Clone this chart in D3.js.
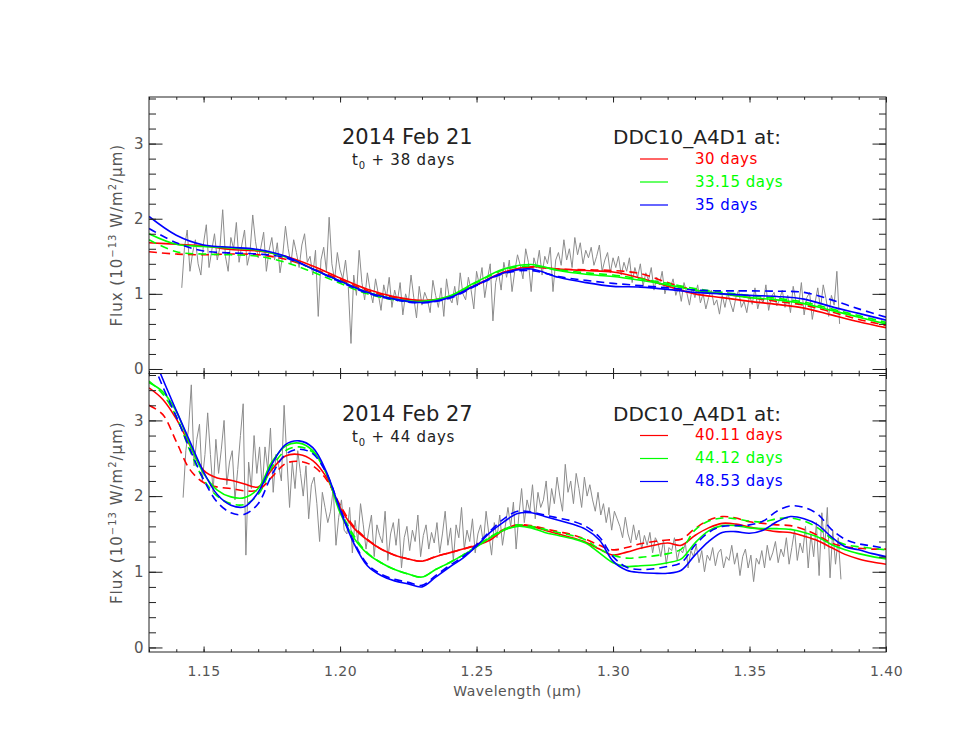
<!DOCTYPE html>
<html>
<head>
<meta charset="utf-8">
<script src="https://cdn.jsdelivr.net/npm/d3@7"></script>
<style>
  body { margin: 0; background: #fff; }
  text { font-family: "DejaVu Sans", sans-serif; }
</style>
</head>
<body>
<svg width="969" height="749"></svg>
<script>
// wavelength grids for the model curves (micron)
const gridTop = [1.13,1.14,1.15,1.16,1.17,1.18,1.19,1.20,1.21,1.22,1.23,1.24,1.25,1.26,1.27,1.28,1.29,1.30,1.31,1.32,1.33,1.34,1.35,1.36,1.37,1.38,1.39,1.40];
const gridBottom = [1.130,1.135,1.140,1.145,1.150,1.155,1.160,1.165,1.170,1.175,1.180,1.185,1.190,1.195,1.200,1.205,1.210,1.215,1.220,1.225,1.230,1.235,1.240,1.245,1.250,1.255,1.260,1.265,1.270,1.275,1.280,1.285,1.290,1.295,1.300,1.305,1.310,1.315,1.320,1.325,1.330,1.335,1.340,1.345,1.350,1.355,1.360,1.365,1.370,1.375,1.380,1.385,1.390,1.395,1.400];

// 2014 Feb 21 models
const redSolidTop   = [1.68,1.66,1.64,1.59,1.57,1.50,1.37,1.21,1.06,0.96,0.91,0.96,1.12,1.29,1.36,1.33,1.31,1.29,1.21,1.10,1.00,0.95,0.90,0.86,0.81,0.72,0.63,0.55];
const redDashTop    = [1.56,1.53,1.52,1.53,1.52,1.46,1.34,1.19,1.04,0.95,0.91,0.96,1.12,1.28,1.35,1.33,1.32,1.31,1.27,1.15,1.05,1.00,0.95,0.90,0.85,0.76,0.66,0.58];
const greenSolidTop = [1.80,1.66,1.63,1.61,1.58,1.49,1.33,1.17,1.02,0.93,0.90,0.97,1.16,1.33,1.39,1.31,1.26,1.23,1.18,1.12,1.05,1.00,0.95,0.92,0.87,0.78,0.69,0.60];
const greenDashTop  = [1.72,1.56,1.53,1.52,1.50,1.42,1.29,1.14,1.00,0.92,0.89,0.96,1.15,1.32,1.37,1.32,1.28,1.25,1.20,1.14,1.07,1.02,0.98,0.94,0.89,0.80,0.71,0.62];
const blueSolidTop  = [2.03,1.78,1.65,1.62,1.59,1.50,1.33,1.17,1.02,0.93,0.885,0.95,1.12,1.28,1.33,1.22,1.15,1.10,1.09,1.06,1.02,1.00,0.98,0.965,0.93,0.83,0.74,0.65];
const blueDashTop   = [1.87,1.68,1.57,1.545,1.53,1.48,1.33,1.16,1.01,0.92,0.88,0.94,1.11,1.27,1.31,1.23,1.18,1.14,1.11,1.08,1.05,1.04,1.04,1.035,1.02,0.92,0.80,0.69];

// 2014 Feb 27 models
const redSolidBot   = [3.43,3.28,3.02,2.67,2.34,2.24,2.21,2.16,2.12,2.35,2.53,2.55,2.47,2.25,1.85,1.58,1.42,1.30,1.22,1.17,1.14,1.20,1.25,1.30,1.35,1.42,1.55,1.61,1.60,1.55,1.50,1.45,1.39,1.30,1.22,1.26,1.31,1.35,1.38,1.35,1.48,1.58,1.64,1.63,1.59,1.56,1.53,1.52,1.47,1.41,1.32,1.23,1.17,1.13,1.10];
const redDashBot    = [3.20,3.08,2.72,2.35,2.18,2.12,2.10,2.07,2.08,2.25,2.43,2.46,2.40,2.22,1.88,1.60,1.43,1.30,1.22,1.17,1.14,1.20,1.25,1.30,1.36,1.45,1.56,1.62,1.61,1.57,1.53,1.49,1.43,1.35,1.29,1.32,1.37,1.40,1.42,1.43,1.57,1.68,1.73,1.71,1.66,1.64,1.62,1.61,1.56,1.48,1.38,1.33,1.31,1.30,1.30];
const greenSolidBot = [3.50,3.38,3.12,2.68,2.30,2.08,1.99,1.98,2.10,2.45,2.66,2.70,2.60,2.30,1.78,1.45,1.24,1.12,1.03,0.97,0.93,1.03,1.12,1.22,1.33,1.45,1.55,1.60,1.58,1.52,1.48,1.44,1.38,1.25,1.12,1.07,1.08,1.09,1.12,1.17,1.38,1.54,1.61,1.61,1.58,1.57,1.57,1.56,1.52,1.46,1.36,1.29,1.24,1.20,1.17];
const greenDashBot  = [3.52,3.35,3.05,2.60,2.22,2.00,1.90,1.89,2.02,2.38,2.60,2.65,2.58,2.30,1.82,1.48,1.25,1.12,1.03,0.97,0.93,1.03,1.12,1.22,1.34,1.46,1.56,1.62,1.60,1.56,1.52,1.48,1.42,1.30,1.22,1.18,1.19,1.21,1.24,1.30,1.55,1.67,1.71,1.70,1.67,1.66,1.70,1.71,1.67,1.58,1.44,1.36,1.33,1.31,1.29];
const blueSolidBot  = [4.00,3.55,3.13,2.72,2.32,2.02,1.88,1.86,2.05,2.42,2.68,2.73,2.64,2.32,1.82,1.38,1.08,0.95,0.88,0.84,0.80,0.93,1.06,1.18,1.34,1.52,1.66,1.77,1.78,1.73,1.68,1.63,1.56,1.42,1.14,1.02,0.99,0.98,0.98,1.02,1.22,1.40,1.52,1.53,1.51,1.55,1.66,1.73,1.70,1.62,1.46,1.33,1.29,1.24,1.20];
const blueDashBot   = [3.90,3.45,3.05,2.62,2.22,1.92,1.78,1.76,1.90,2.28,2.55,2.62,2.56,2.30,1.84,1.40,1.10,0.97,0.90,0.86,0.82,0.95,1.08,1.20,1.36,1.54,1.70,1.80,1.79,1.75,1.71,1.67,1.60,1.46,1.20,1.06,1.03,1.04,1.07,1.12,1.35,1.52,1.60,1.61,1.62,1.67,1.80,1.87,1.85,1.76,1.56,1.43,1.37,1.34,1.31];

// observed spectra, sampled every 0.001 micron (one row = 0.01 micron)
const specStep = 0.001;
const specTopStart = 1.142;
const specTop = [
  1.08,1.62,1.85,1.30,1.55,1.72,1.40,1.25,1.68,1.92,
  1.35,1.58,1.80,1.45,1.62,2.12,1.50,1.30,1.75,1.60,
  1.95,1.42,1.65,1.85,1.38,1.55,2.05,1.70,1.48,1.62,
  1.82,1.30,1.58,1.75,1.45,1.68,1.28,1.52,1.90,1.60,
  1.40,1.72,1.55,1.35,1.65,1.80,1.42,1.50,1.25,1.58,
  0.70,1.45,1.62,1.30,2.02,1.40,1.18,1.55,1.32,1.20,
  1.45,1.10,0.34,1.25,0.98,1.58,1.15,0.92,1.28,1.05,
  0.88,1.20,1.00,0.78,1.12,0.95,1.22,0.82,1.05,0.90,
  1.15,0.72,1.00,0.88,1.25,0.95,0.68,1.10,0.85,1.02,
  0.92,0.75,1.18,0.98,0.82,1.08,0.70,1.20,0.95,0.88,
  1.10,0.85,1.28,1.00,0.92,1.22,1.05,0.80,1.30,1.12,
  1.35,0.95,1.20,1.40,0.64,1.15,1.30,1.05,1.42,1.22,
  1.45,1.03,1.30,1.52,1.38,1.20,1.60,1.42,1.03,1.48,
  1.35,1.58,1.25,1.50,1.40,1.62,1.03,1.45,1.55,1.38,
  1.72,1.45,1.60,1.35,1.75,1.52,1.68,1.40,1.58,1.48,
  1.62,1.38,1.50,1.65,1.30,1.45,1.55,1.28,1.48,1.35,
  1.50,1.25,1.42,1.30,1.48,1.15,1.35,1.22,1.40,1.10,
  1.28,1.18,1.35,1.05,1.22,1.12,1.30,1.00,1.15,1.08,
  1.20,0.98,1.10,0.90,1.15,1.02,0.85,1.08,0.95,1.12,
  0.88,1.00,0.80,0.95,1.05,0.85,0.92,0.73,0.98,0.82,
  1.02,0.88,0.76,0.95,1.05,0.82,0.90,0.75,0.98,0.86,
  1.08,0.80,0.95,0.88,1.12,0.78,0.96,1.02,0.84,0.92,
  1.05,0.82,0.98,0.75,1.10,0.90,0.85,1.15,0.72,0.95,
  1.02,0.66,0.88,1.08,0.80,1.12,0.94,0.70,0.98,0.85,
  1.30,0.60
];
const specBotStart = 1.1425;
const specBot = [
  1.98,2.60,2.90,3.47,2.40,2.75,2.95,2.20,2.55,3.10,
  2.55,2.05,2.75,2.30,2.62,3.00,2.15,2.45,2.60,1.95,
  2.35,2.80,3.22,1.22,2.45,2.10,2.80,2.30,2.65,2.10,
  2.65,2.35,2.90,2.05,2.55,2.40,2.20,3.20,2.50,1.85,
  2.45,2.10,2.60,2.30,2.00,2.40,1.70,2.15,2.25,1.90,
  1.40,2.05,1.85,1.65,1.80,2.10,1.35,1.72,1.95,1.55,
  1.50,1.85,1.25,1.68,1.40,1.90,1.62,1.30,1.55,1.75,
  1.20,1.62,1.48,1.38,1.80,1.15,1.50,1.65,1.35,1.70,
  1.05,1.45,1.60,1.28,1.55,1.40,1.75,1.20,1.48,1.62,
  1.30,1.52,1.38,1.65,1.25,1.50,1.80,1.35,1.58,1.15,
  1.62,1.45,1.85,1.30,1.55,1.40,1.70,1.25,1.50,1.62,
  1.38,1.80,1.50,1.22,1.65,1.45,1.75,1.35,1.60,1.85,
  1.60,1.92,1.30,1.75,2.10,1.65,1.95,1.80,2.15,1.70,
  2.05,1.85,1.95,2.20,1.75,2.10,1.90,2.25,2.00,1.80,
  2.42,2.05,2.20,1.90,2.30,2.10,1.85,2.25,2.00,2.15,
  1.95,1.80,2.05,1.75,1.90,1.65,1.85,1.55,1.80,1.70,
  1.60,1.45,1.72,1.50,1.38,1.62,1.42,1.55,1.30,1.48,
  1.35,1.52,1.25,1.45,1.38,1.20,1.42,1.10,1.32,1.28,
  1.45,1.15,1.30,1.25,1.38,1.05,1.28,1.20,1.35,1.12,
  1.28,1.00,1.22,1.15,1.32,1.08,1.25,1.30,1.05,1.20,
  1.15,1.35,1.10,1.25,0.95,1.20,1.30,1.05,1.22,0.87,
  1.18,1.10,1.28,1.05,1.35,1.15,1.25,1.40,1.12,1.30,
  1.20,1.45,1.10,1.32,1.55,1.15,1.38,1.25,1.60,1.05,
  1.50,1.20,1.65,0.95,1.78,1.30,1.85,0.92,1.55,1.10,
  1.45,0.90
];

const legendTop = ["30 days", "33.15 days", "35 days"];
const legendBot = ["40.11 days", "44.12 days", "48.53 days"];
const colors = ["#ff0000", "#00ff00", "#0000ff"];

const xMajor = [1.15, 1.20, 1.25, 1.30, 1.35, 1.40];
const yMajor = [0, 1, 2, 3];

const svg = d3.select("svg");
const left = 149, right = 886;

const x = d3.scaleLinear().domain([1.13, 1.40]).range([left, right]);
const xMinor = d3.range(113, 141).map(d => d / 100);
const yMinor = d3.range(0, 19).map(d => d / 5);

const panels = [
  { y0: 97, y1: 373.5, date: "2014 Feb 21", days: "38", spec: specTop, start: specTopStart,
    grid: gridTop, labels: legendTop,
    models: [[redSolidTop, redDashTop], [greenSolidTop, greenDashTop], [blueSolidTop, blueDashTop]] },
  { y0: 373.5, y1: 652, date: "2014 Feb 27", days: "44", spec: specBot, start: specBotStart,
    grid: gridBottom, labels: legendBot,
    models: [[redSolidBot, redDashBot], [greenSolidBot, greenDashBot], [blueSolidBot, blueDashBot]] }
];

const styleAxis = (g) => {
  g.select(".domain").remove();
  g.selectAll("line").attr("stroke", "#222").attr("stroke-width", 1);
  g.selectAll("text").attr("fill", "#555").attr("font-size", 14)
    .attr("letter-spacing", 0.5).attr("font-family", "DejaVu Sans, sans-serif");
};

panels.forEach((p, pi) => {
  const y = d3.scaleLinear().domain([-0.06, 3.62]).range([p.y1, p.y0]);

  svg.append("clipPath").attr("id", `clip${pi}`)
    .append("rect").attr("x", left).attr("y", p.y0)
    .attr("width", right - left).attr("height", p.y1 - p.y0);

  const plot = svg.append("g").attr("clip-path", `url(#clip${pi})`);

  // observed spectrum
  const specLine = d3.line()
    .x((d, i) => x(p.start + i * specStep))
    .y(d => y(d));
  plot.append("path")
    .attr("d", specLine(p.spec))
    .attr("fill", "none")
    .attr("stroke", "#8c8c8c")
    .attr("stroke-width", 1);

  // model curves
  const modelLine = d3.line()
    .x((d, i) => x(p.grid[i]))
    .y(d => y(d))
    .curve(d3.curveCatmullRom.alpha(0.5));
  p.models.forEach((pair, ci) => {
    pair.forEach((vals, k) => {
      plot.append("path")
        .attr("d", modelLine(vals))
        .attr("fill", "none")
        .attr("stroke", colors[ci])
        .attr("stroke-width", 1.6)
        .attr("stroke-dasharray", k === 1 ? "8,5" : null);
    });
  });

  // axes: ticks point inwards on all four sides
  const bottomAx = d3.axisBottom(x).tickValues(xMajor).tickSizeInner(-5.5).tickSizeOuter(0)
    .tickPadding(14).tickFormat(pi === 1 ? d3.format(".2f") : "");
  svg.append("g").attr("transform", `translate(0,${p.y1})`).call(bottomAx).call(styleAxis);
  svg.append("g").attr("transform", `translate(0,${p.y1})`)
    .call(d3.axisBottom(x).tickValues(xMinor).tickSizeInner(-2.8).tickSizeOuter(0).tickFormat(""))
    .call(styleAxis);
  svg.append("g").attr("transform", `translate(0,${p.y0})`)
    .call(d3.axisTop(x).tickValues(xMajor).tickSizeInner(-5.5).tickSizeOuter(0).tickFormat(""))
    .call(styleAxis);
  svg.append("g").attr("transform", `translate(0,${p.y0})`)
    .call(d3.axisTop(x).tickValues(xMinor).tickSizeInner(-2.8).tickSizeOuter(0).tickFormat(""))
    .call(styleAxis);

  svg.append("g").attr("transform", `translate(${left},0)`)
    .call(d3.axisLeft(y).tickValues(yMajor).tickSizeInner(-13.5).tickSizeOuter(0).tickPadding(5).tickFormat(d3.format("d")))
    .call(styleAxis)
    .call(g => g.selectAll("text").attr("font-size", 15));
  svg.append("g").attr("transform", `translate(${left},0)`)
    .call(d3.axisLeft(y).tickValues(yMinor).tickSizeInner(-7).tickSizeOuter(0).tickFormat(""))
    .call(styleAxis);
  svg.append("g").attr("transform", `translate(${right},0)`)
    .call(d3.axisRight(y).tickValues(yMajor).tickSizeInner(-13.5).tickSizeOuter(0).tickFormat(""))
    .call(styleAxis);
  svg.append("g").attr("transform", `translate(${right},0)`)
    .call(d3.axisRight(y).tickValues(yMinor).tickSizeInner(-7).tickSizeOuter(0).tickFormat(""))
    .call(styleAxis);

  // frame
  svg.append("rect")
    .attr("x", left).attr("y", p.y0)
    .attr("width", right - left).attr("height", p.y1 - p.y0)
    .attr("fill", "none").attr("stroke", "#222").attr("stroke-width", 1);

  // y label
  const fl = svg.append("text")
    .attr("transform", `translate(122,${(p.y0 + p.y1) / 2}) rotate(-90)`)
    .attr("text-anchor", "middle")
    .attr("font-size", 15)
    .attr("letter-spacing", 1)
    .attr("fill", "#555");
  fl.append("tspan").text("Flux (10");
  fl.append("tspan").attr("dy", -6).attr("font-size", 10).text("\u221213");
  fl.append("tspan").attr("dy", 6).text(" W/m");
  fl.append("tspan").attr("dy", -6).attr("font-size", 10).text("2");
  fl.append("tspan").attr("dy", 6).text("/\u03bcm)");

  // date + epoch
  svg.append("text")
    .attr("x", 342).attr("y", p.y0 + 47)
    .attr("font-size", 21)
    .attr("fill", "#222")
    .text(p.date);
  const sub = svg.append("text")
    .attr("x", 352).attr("y", p.y0 + 68)
    .attr("font-size", 15)
    .attr("letter-spacing", 0.8)
    .attr("fill", "#222");
  sub.append("tspan").text("t");
  sub.append("tspan").attr("dy", 4).attr("font-size", 10).text("0");
  sub.append("tspan").attr("dy", -4).text(` + ${p.days} days`);

  // legend
  svg.append("text")
    .attr("x", 613).attr("y", p.y0 + 47)
    .attr("font-size", 20)
    .attr("fill", "#222")
    .text("DDC10_A4D1 at:");
  p.labels.forEach((lab, i) => {
    svg.append("line")
      .attr("x1", 640).attr("x2", 668)
      .attr("y1", p.y0 + 62 + i * 23).attr("y2", p.y0 + 62 + i * 23)
      .attr("stroke", colors[i]).attr("stroke-width", 1.2);
    svg.append("text")
      .attr("x", 695).attr("y", p.y0 + 66.5 + i * 23)
      .attr("font-size", 15)
      .attr("letter-spacing", 0.5)
      .attr("fill", colors[i])
      .text(lab);
  });
});

// x title
svg.append("text")
  .attr("x", (left + right) / 2).attr("y", 696)
  .attr("text-anchor", "middle")
  .attr("font-size", 14)
  .attr("letter-spacing", 0.5)
  .attr("fill", "#555")
  .text("Wavelength (\u03bcm)");
</script>
</body>
</html>
